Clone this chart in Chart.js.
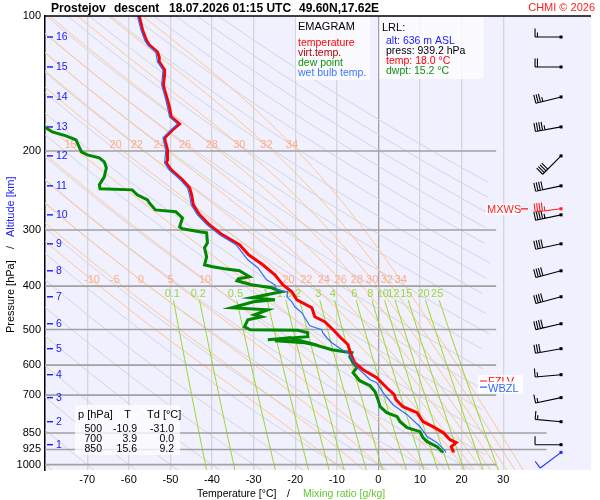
<!DOCTYPE html>
<html>
<head>
<meta charset="utf-8">
<title>Emagram Prostejov</title>
<script src="https://cdn.jsdelivr.net/npm/chart.js@4.4.1/dist/chart.umd.min.js"></script>
<style>
  html, body { margin: 0; padding: 0; background: #fff; }
  #box { width: 600px; height: 500px; }
</style>
</head>
<body>
<div id="box"><canvas id="emagram"></canvas></div>
<script>
// sounding (hPa / degC)
const tempP = [100, 107.4, 113.1, 116.0, 120.3, 123.4, 126.6, 131.9, 135.3, 142.4, 146.1, 153.8, 160.3, 167.9, 174.0,
  179.5, 186.9, 190.8, 198.8, 209.3, 212.5, 220.3, 231.9, 241.6, 250.4, 263.6, 277.5, 292.1, 307.5, 323.6,
  340.7, 358.6, 377.4, 397.3, 411.8, 429.1, 447.0, 468.2, 480.3, 500.4, 518.7, 540.4, 568.9, 592.7, 614.4,
  640.2, 673.9, 698.4, 716.5, 742.8, 766.0, 802.1, 823.1, 848.8, 879.9, 893.5, 911.8, 935.6, 939.2];
const tempT = [-57.5, -56.7, -55.8, -55.1, -53.1, -52.7, -52.7, -51.4, -51.4, -51.7, -51.4, -50.7, -50.2, -49.8, -47.8,
  -49.5, -51.4, -51.2, -50.7, -50.7, -51.0, -49.8, -47.1, -45.4, -44.9, -44.5, -43.0, -40.6, -37.5, -33.4,
  -31.2, -27.8, -24.9, -23.0, -20.8, -19.6, -16.0, -15.3, -12.9, -10.9, -9.3, -7.3, -6.6, -5.7, -3.7,
  -0.4, 2.0, 3.8, 4.2, 5.9, 9.3, 10.7, 13.1, 15.6, 17.2, 18.7, 17.5, 18.0, 18.0];

const dewP = [175.0, 181.3, 185.0, 188.9, 200.9, 204.0, 207.1, 211.4, 218.1, 228.3, 237.9, 242.8, 244.1, 250.4, 256.9,
  260.9, 270.5, 273.2, 281.8, 295.1, 298.1, 302.7, 304.3, 320.3, 328.6, 344.2, 358.6, 362.2, 366.0, 369.8,
  381.3, 385.2, 389.2, 397.3, 403.4, 411.8, 424.7, 429.1, 433.5, 447.0, 451.7, 463.4, 468.2, 475.4, 492.8,
  500.4, 502.0, 508.1, 518.7, 526.8, 521.4, 532.2, 529.5, 534.9, 540.4, 554.4, 560.2, 563.1, 574.7, 592.7,
  608.1, 623.9, 650.0, 666.9, 687.7, 716.5, 742.8, 766.0, 781.8, 802.1, 827.1, 844.3, 870.7, 888.8, 911.8,
  935.6, 939.2];
const dewT = [-81.0, -78.4, -75.1, -72.7, -71.4, -70.0, -67.1, -65.9, -65.4, -65.9, -67.1, -66.9, -59.2, -58.0, -55.5,
  -55.1, -53.6, -48.7, -47.1, -47.8, -47.1, -43.0, -41.3, -41.1, -41.8, -41.3, -41.8, -39.9, -37.0, -33.4,
  -31.0, -33.7, -34.0, -30.5, -25.7, -23.3, -30.5, -24.9, -30.0, -35.3, -26.6, -29.8, -28.1, -31.4, -32.2,
  -30.8, -19.4, -17.0, -17.0, -26.6, -21.3, -17.7, -24.9, -17.7, -15.3, -11.2, -8.1, -6.4, -6.9, -6.1,
  -5.2, -6.1, -4.5, -2.0, -0.8, -0.1, 0.4, 2.0, 4.5, 5.2, 6.9, 10.0, 10.7, 11.7, 14.1,
  15.3, 15.2];

const wetP = [100, 107.4, 113.1, 116.0, 120.3, 126.6, 131.9, 142.4, 153.8, 167.9, 174.0, 179.5, 186.9, 198.8, 212.5,
  220.3, 231.9, 241.6, 250.4, 263.6, 277.5, 292.1, 307.5, 323.6, 349.5, 364.0, 387.2, 397.3, 407.6, 411.8,
  422.6, 433.5, 444.8, 458.7, 490.4, 500.4, 508.1, 521.4, 534.9, 554.4, 560.2, 568.9, 608.1, 614.4, 646.7,
  656.7, 691.3, 735.2, 773.8, 823.1, 866.2, 893.5, 930.7, 939.2];
const wetT = [-57.9, -57.1, -56.2, -55.5, -53.5, -53.1, -51.8, -52.1, -51.1, -50.2, -48.3, -49.9, -51.8, -51.1, -51.4,
  -50.3, -47.6, -45.9, -45.4, -45.0, -43.5, -41.2, -38.2, -34.2, -31.4, -29.0, -26.9, -24.9, -24.5, -21.8,
  -22.0, -20.8, -20.1, -18.4, -16.5, -13.6, -13.4, -12.4, -11.2, -8.8, -7.6, -6.9, -5.2, -4.5, -2.0,
  -0.4, 1.1, 3.5, 6.9, 10.0, 11.7, 14.1, 16.0, 16.2];

// axes
const pressureTicks = [100, 200, 300, 400, 500, 600, 700, 850, 925, 1000];
const temperatureTicks = [-70, -60, -50, -40, -30, -20, -10, 0, 10, 20, 30];

// altitude marks (km) and winds at them
const altitudeKm = [1, 2, 3, 4, 5, 6, 7, 8, 9, 10, 11, 12, 13, 14, 15, 16];
const altitudeP = [902.7, 802.2, 709.0, 630.3, 551.5, 485.3, 422.5, 369.8, 322.0, 277.5, 239.1, 205.0, 176.7, 151.5, 129.9, 111.4];
const windDir = [270, 275, 258, 265, 260, 257, 255, 255, 258, 258, 258, 225, 260, 256, 270, 270];
const windKt = [10, 15, 15, 15, 30, 40, 40, 40, 40, 45, 40, 40, 45, 35, 20, 15];
const surfaceWind = [939.2, 233, 10];   // p, dir, kt
const maxWind = [269.0, 263, 45];       // p, dir, kt

// background isopleths
const dryTheta = [-80, -70, -60, -50, -40, -30, -20, -10, 0, 10, 20, 30, 40, 50, 60, 70, 80, 90, 100, 110, 120, 130, 140, 150, 160, 170, 180];
const wetBulbTheta = [-10, -5, 0, 5, 10, 15, 20, 22, 24, 26, 28, 30, 32, 34];
const mixingRatio = [0.1, 0.2, 0.5, 1, 1.5, 2, 3, 4, 6, 8, 10, 12, 15, 20, 25];

// standard levels table and lifting level
const tableP = [500, 700, 850];
const tableT = [-10.9, 3.9, 15.6];
const tableTd = [-31.0, 0.0, 9.2];
const lrl = { alt: 636, press: 939.2, temp: 18.0, dwpt: 15.2 };

const P_TOP = 100, P_BOT = 1028, T_MIN = -80.15, T_MAX = 51.1;
const FONT = '"Liberation Sans", Arial, Helvetica, sans-serif';
Chart.defaults.font.family = FONT;

// --- thermodynamics for the diagram lines ---
function satVap(tc) { return 6.112 * Math.exp(17.67 * tc / (tc + 243.5)); }
function dryTemp(th, p) { return (th + 273.15) * Math.pow(p / 1000, 0.2857) - 273.15; }
function mixDew(w, p) {
  const e = (w / 1000) * p / (0.622 + w / 1000);
  const l = Math.log(e / 6.112);
  return 243.5 * l / (17.67 - l);
}
function moistRate(tk, p) {
  const es = satVap(tk - 273.15), rs = 0.622 * es / (p - es);
  return (287.04 * tk + 2.501e6 * rs) / (1005.7 + 2.501e6 * 2.501e6 * rs * 0.622 / (287.04 * tk * tk));
}
function moistTemp(thw, p) {
  let tk = thw + 273.15, lp = Math.log(1000);
  const n = 40, h = (Math.log(p) - lp) / n;
  for (let i = 0; i < n; i++) {
    const k1 = moistRate(tk, Math.exp(lp));
    const k2 = moistRate(tk + k1 * h / 2, Math.exp(lp + h / 2));
    tk += k2 * h;
    lp += h;
  }
  return tk - 273.15;
}

const levels = [];
for (let i = 0; i <= 90; i++) levels.push(P_BOT * Math.pow(P_TOP / P_BOT, i / 90));
const mixLevels = [];
for (let i = 0; i <= 20; i++) mixLevels.push(430 * Math.pow(P_BOT / 430, i / 20));

function guide(points, color, width, order) {
  return { data: points, showLine: true, borderColor: color, borderWidth: width,
           pointRadius: 0, pointHoverRadius: 0, order: order };
}
const pts = (ps, ts) => ps.map((p, i) => ({ x: ts[i], y: p }));

const datasets = [];
// profiles
datasets.push(guide(pts(wetP, wetT), '#2f6cff', 1.2, 1));
datasets.push(guide(pts(tempP, tempT), '#ff0000', 3, 2));
datasets.push(guide(pts(dewP, dewT), '#008800', 3, 3));

// isobars (the last one carries the label hook)
pressureTicks.slice(1).forEach(p => {
  const right = (p === 850 || p === 925) ? 40.4 : 28.3;
  const ds = guide([{ x: T_MIN, y: p }, { x: right, y: p }], '#a2a2a2', 1.6, p === 1000 ? 6 : 7);
  if (p === 1000) ds.labelHook = true;
  datasets.push(ds);
});
mixingRatio.forEach(w => {
  datasets.push(guide(mixLevels.map(p => ({ x: mixDew(w, p), y: p })), '#9bd92c', 1, 8));
});
wetBulbTheta.forEach(t => {
  datasets.push(guide(levels.map(p => ({ x: moistTemp(t, p), y: p })), '#ffc88e', 1, 9));
});
dryTheta.forEach(th => {
  const line = [];
  levels.forEach(p => { const t = dryTemp(th, p); if (t <= 27) line.push({ x: t, y: p }); });
  if (line.length > 1) datasets.push(guide(line, '#d5d5dc', 1, 10));
});

function drawBarb(ctx, x0, y0, dir, kt, color) {
  const r = dir * Math.PI / 180;
  const sx = Math.sin(r), sy = -Math.cos(r);
  const fx = -sy, fy = sx;
  const len = 26, full = 8.5, half = 4.5, gap = 2.4;
  ctx.strokeStyle = color;
  ctx.fillStyle = color;
  ctx.lineWidth = 1.1;
  ctx.beginPath();
  ctx.moveTo(x0, y0);
  ctx.lineTo(x0 + sx * len, y0 + sy * len);
  let rest = kt, pos = len;
  while (rest >= 10) {
    const bx = x0 + sx * pos, by = y0 + sy * pos;
    ctx.moveTo(bx, by);
    ctx.lineTo(bx + fx * full, by + fy * full);
    rest -= 10;
    pos -= gap;
  }
  if (rest >= 5) {
    const bx = x0 + sx * pos, by = y0 + sy * pos;
    ctx.moveTo(bx, by);
    ctx.lineTo(bx + fx * half, by + fy * half);
  }
  ctx.stroke();
  ctx.fillRect(x0 - 1.5, y0 - 1.5, 3, 3);
}

function text(ctx, s, x, y, color, size, align, weight) {
  ctx.font = (weight || '') + ' ' + size + 'px ' + FONT;
  ctx.fillStyle = color;
  ctx.textAlign = align || 'left';
  ctx.textBaseline = 'alphabetic';
  ctx.fillText(s, x, y);
}

const decor = {
  id: 'decor',
  beforeDraw(chart) {
    const { ctx, chartArea: a } = chart;
    ctx.save();
    ctx.fillStyle = '#ffffff';
    ctx.fillRect(0, 0, chart.width, chart.height);
    ctx.fillStyle = '#f0f0fe';
    ctx.fillRect(a.left, a.top, a.right - a.left, a.bottom - a.top);
    ctx.restore();
  },
  afterDatasetDraw(chart, args) {
    if (!chart.data.datasets[args.index].labelHook) return;
    const { ctx, chartArea: a } = chart;
    const xs = chart.scales.x, ys = chart.scales.y;
    ctx.save();
    ctx.font = '11px ' + FONT;
    ctx.textAlign = 'center';
    ctx.textBaseline = 'middle';
    ctx.fillStyle = '#ffac8a';
    wetBulbTheta.forEach(t => {
      [387.8, 194].forEach(pl => {
        const px = xs.getPixelForValue(moistTemp(t, pl));
        if (px < a.left + 12 || px > a.right - 12) return;
        ctx.fillText(String(t), px, ys.getPixelForValue(pl));
      });
    });
    ctx.fillStyle = '#9bd83a';
    mixingRatio.forEach(w => {
      const px = xs.getPixelForValue(mixDew(w, 416.7));
      ctx.fillText(String(w), px, ys.getPixelForValue(416.7));
    });
    ctx.restore();
  },
  afterDraw(chart) {
    const { ctx, chartArea: a } = chart;
    const xs = chart.scales.x, ys = chart.scales.y;
    ctx.save();

    // frame top line
    ctx.strokeStyle = '#000';
    ctx.lineWidth = 1.5;
    ctx.beginPath();
    ctx.moveTo(a.left, a.top);
    ctx.lineTo(a.right, a.top);
    ctx.stroke();

    // title
    text(ctx, 'Prostejov', 51, 12, '#000', 12, 'left', 'bold');
    text(ctx, 'descent', 114, 12, '#000', 12, 'left', 'bold');
    text(ctx, '18.07.2026 01:15 UTC', 169, 12, '#000', 12, 'left', 'bold');
    text(ctx, '49.60N,17.62E', 299, 12, '#000', 12, 'left', 'bold');
    text(ctx, 'CHMI \u00a9 2026', 595, 11, '#ff2020', 11, 'right');

    // altitude marks
    altitudeKm.forEach((km, i) => {
      const y = ys.getPixelForValue(altitudeP[i]);
      ctx.fillStyle = '#1818ff';
      ctx.fillRect(47, y - 0.7, 6, 1.4);
      ctx.font = '10.5px ' + FONT;
      ctx.textAlign = 'left';
      ctx.textBaseline = 'middle';
      ctx.fillText(String(km), 56, y + 0.5);
    });

    // legend box
    ctx.fillStyle = 'rgba(255,255,255,0.75)';
    ctx.fillRect(296, a.top + 1, 74, 63);
    text(ctx, 'EMAGRAM', 298, 30, '#000', 11);
    text(ctx, 'temperature', 298, 45.5, '#ff0000', 10.5);
    text(ctx, 'virt.temp.', 298, 55.5, '#b00000', 10.5);
    text(ctx, 'dew point', 298, 65.5, '#109010', 10.5);
    text(ctx, 'wet bulb temp.', 298, 75.5, '#3a78ff', 10.5);

    // lifting level box
    ctx.fillStyle = 'rgba(255,255,255,0.75)';
    ctx.fillRect(379.5, a.top + 1, 104, 62);
    text(ctx, 'LRL:', 382, 31, '#000', 11);
    text(ctx, 'alt: ' + lrl.alt + ' m ASL', 386, 44, '#1a1aff', 10.5);
    text(ctx, 'press: ' + lrl.press.toFixed(1) + ' hPa', 386, 54, '#000', 10.5);
    text(ctx, 'temp: ' + lrl.temp.toFixed(1) + ' \u00b0C', 386, 64, '#ff0000', 10.5);
    text(ctx, 'dwpt: ' + lrl.dwpt.toFixed(1) + ' \u00b0C', 386, 74, '#109010', 10.5);

    // standard level table
    ctx.fillStyle = 'rgba(255,255,255,0.75)';
    ctx.fillRect(75, 405, 105, 50);
    text(ctx, 'p [hPa]', 78, 418, '#000', 11);
    text(ctx, 'T', 127.5, 418, '#000', 11, 'center');
    text(ctx, 'Td [\u00b0C]', 147, 418, '#000', 11);
    tableP.forEach((p, i) => {
      const y = 432 + i * 10;
      text(ctx, String(p), 102, y, '#000', 10.5, 'right');
      text(ctx, tableT[i].toFixed(1), 137, y, '#000', 10.5, 'right');
      text(ctx, tableTd[i].toFixed(1), 174, y, '#000', 10.5, 'right');
    });

    // freezing / wet-bulb zero level labels
    ctx.fillStyle = 'rgba(255,255,255,0.85)';
    ctx.fillRect(478, 375, 45, 10);
    ctx.fillStyle = '#ff0000';
    ctx.fillRect(480, 380.5, 7, 1.3);
    text(ctx, 'FZLV', 488, 384.5, '#ff0000', 11);
    ctx.fillStyle = 'rgba(255,255,255,0.85)';
    ctx.fillRect(478, 381.5, 45, 12);
    ctx.fillStyle = '#2f6cff';
    ctx.fillRect(480, 386.5, 7, 1.3);
    text(ctx, 'WBZL', 488, 392, '#2f6cff', 11);

    // wind barbs
    const bx = xs.getPixelForValue(43.9);
    altitudeP.forEach((p, i) => drawBarb(ctx, bx, ys.getPixelForValue(p), windDir[i], windKt[i], '#000'));
    drawBarb(ctx, bx, ys.getPixelForValue(surfaceWind[0]), surfaceWind[1], surfaceWind[2], '#2030ff');
    const my = ys.getPixelForValue(maxWind[0]);
    ctx.fillStyle = 'rgba(255,255,255,0.85)';
    ctx.fillRect(486, my - 5, 33, 11);
    text(ctx, 'MXWS', 487, my + 4.5, '#ff2020', 11);
    ctx.fillStyle = '#ff2020';
    ctx.fillRect(521, my - 0.6, 7, 1.3);
    drawBarb(ctx, bx, my, maxWind[1], maxWind[2], '#ff2020');

    // axis titles
    text(ctx, 'Temperature [\u00b0C]', 197, 497, '#000', 10.5);
    text(ctx, '/', 287, 497, '#000', 10.5);
    text(ctx, 'Mixing ratio [g/kg]', 303, 497, '#66c830', 10.5);
    ctx.translate(13.5, 333);
    ctx.rotate(-Math.PI / 2);
    text(ctx, 'Pressure [hPa]', 0, 0, '#000', 11);
    text(ctx, '/', 84, 0, '#000', 11);
    text(ctx, 'Altitude [km]', 96, 0, '#1a1aff', 11);
    ctx.restore();
  }
};

new Chart(document.getElementById('emagram'), {
  type: 'scatter',
  data: { datasets: datasets },
  options: {
    responsive: true,
    maintainAspectRatio: false,
    animation: false,
    events: [],
    layout: { padding: { left: 0, right: 9, top: 16, bottom: 0 } },
    plugins: { legend: { display: false }, tooltip: { enabled: false } },
    scales: {
      x: {
        type: 'linear', min: T_MIN, max: T_MAX,
        afterBuildTicks: s => { s.ticks = temperatureTicks.map(v => ({ value: v })); },
        afterFit: s => { s.height = 30; },
        grid: { color: c => (c.tick && c.tick.value === 0) ? '#a0a0a0' : '#d6d6da', lineWidth: 1.3, drawTicks: false },
        border: { display: false },
        ticks: { color: '#000', font: { size: 11 }, padding: 3, maxRotation: 0, autoSkip: false, callback: v => String(v) }
      },
      y: {
        type: 'logarithmic', reverse: true, min: P_TOP, max: P_BOT,
        afterBuildTicks: s => { s.ticks = pressureTicks.map(v => ({ value: v })); },
        afterFit: s => { s.width = 45; },
        grid: { display: false, drawTicks: false },
        border: { display: true, color: '#000', width: 1.5 },
        ticks: { color: '#000', font: { size: 11 }, padding: 4, autoSkip: false, callback: v => String(v) }
      }
    }
  },
  plugins: [decor]
});
</script>
</body>
</html>
